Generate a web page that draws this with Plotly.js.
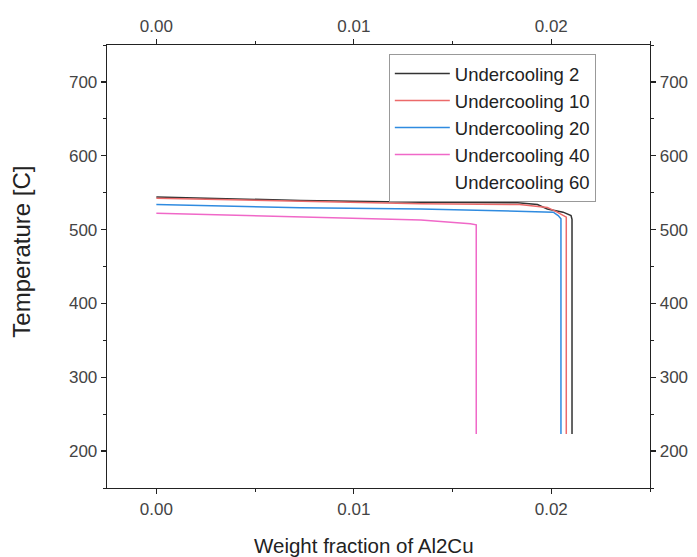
<!DOCTYPE html>
<html>
<head>
<meta charset="utf-8">
<script src="https://cdn.plot.ly/plotly-3.0.1.min.js"></script>
<style>html,body{margin:0;padding:0;background:#fff;}#chart{width:697px;height:557px;}</style>
</head>
<body>
<div id="chart"></div>
<script>
// Series names
const seriesNames = ["Undercooling 2", "Undercooling 10", "Undercooling 20", "Undercooling 40", "Undercooling 60"];
// Weight fraction of Al2Cu (x) and temperature (y) for each series
const uc2X  = [0, 0.0073, 0.0134, 0.0183, 0.0193, 0.0198, 0.0206, 0.0210, 0.02105, 0.02105];
const uc2Y  = [544, 539.5, 537, 536.3, 534, 528, 523.6, 519, 514, 223];
const uc10X = [0, 0.0073, 0.0134, 0.0184, 0.0198, 0.0203, 0.0206, 0.02076, 0.02076];
const uc10Y = [542.5, 538.5, 535, 534, 530, 523.6, 519, 516.8, 223];
const uc20X = [0, 0.0073, 0.0134, 0.0201, 0.02035, 0.02049, 0.02049];
const uc20Y = [534, 529.5, 528, 523.6, 519, 514.6, 223];
const uc40X = [0, 0.0073, 0.0134, 0.0159, 0.0162, 0.0162];
const uc40Y = [522, 517, 513, 508, 506.5, 223];
const uc60X = [null];   // not visible in the reference
const uc60Y = [null];
// Tick values and titles
const xTicks = [0, 0.01, 0.02];
const yTicks = [200, 300, 400, 500, 600, 700];
const xTitle = "Weight fraction of Al2Cu";
const yTitle = "Temperature [C]";

const colors = ["#333333", "#ec6a6a", "#2f8be0", "#f068c8", "#ffffff"];
const xs = [uc2X, uc10X, uc20X, uc40X, uc60X];
const ys = [uc2Y, uc10Y, uc20Y, uc40Y, uc60Y];

const traces = seriesNames.map((n, i) => ({
  type: "scatter", mode: "lines", name: n, x: xs[i], y: ys[i],
  line: {color: colors[i], width: 1.5}
}));
// Trace to activate mirrored axes with labels
traces.push({type: "scatter", mode: "lines", x: [], y: [], xaxis: "x2", yaxis: "y2", showlegend: false, hoverinfo: "skip"});

const font = "Liberation Sans, Arial, sans-serif";
const axisCommon = {
  showline: true, linecolor: "#222", linewidth: 1.3,
  ticks: "outside", ticklen: 5, tickwidth: 1.3, tickcolor: "#222",
  showgrid: false, zeroline: false,
  tickfont: {family: font, size: 17, color: "#444"},
  minor: {ticks: "outside", ticklen: 3, tickwidth: 1, tickcolor: "#222"}
};
const xr = [-0.0025, 0.025];
const yr = [150, 750];

const layout = {
  width: 697, height: 557,
  margin: {l: 107, r: 47, t: 45, b: 69},
  paper_bgcolor: "#fff", plot_bgcolor: "#fff",
  showlegend: true,
  xaxis: Object.assign({}, axisCommon, {
    range: xr, tickvals: xTicks, tickformat: ".2f",
    minor: Object.assign({}, axisCommon.minor, {dtick: 0.005, tick0: 0})
  }),
  yaxis: Object.assign({}, axisCommon, {
    range: yr, tickvals: yTicks,
    minor: Object.assign({}, axisCommon.minor, {dtick: 50, tick0: 0})
  }),
  xaxis2: Object.assign({}, axisCommon, {
    range: xr, tickvals: xTicks, tickformat: ".2f", overlaying: "x", side: "top", anchor: "y",
    minor: Object.assign({}, axisCommon.minor, {dtick: 0.005, tick0: 0})
  }),
  yaxis2: Object.assign({}, axisCommon, {
    range: yr, tickvals: yTicks, overlaying: "y", side: "right", anchor: "x",
    minor: Object.assign({}, axisCommon.minor, {dtick: 50, tick0: 0})
  }),
  annotations: [
    {text: xTitle, xref: "paper", yref: "paper", x: 0.473, y: -0.129, xanchor: "center", yanchor: "middle",
     showarrow: false, font: {family: font, size: 20.5, color: "#222"}},
    {text: yTitle, xref: "paper", yref: "paper", x: -0.157, y: 0.533, xanchor: "center", yanchor: "middle",
     textangle: -90, showarrow: false, font: {family: font, size: 24, color: "#222"}}
  ],
  legend: {
    x: 0.519, y: 0.98, xanchor: "left", yanchor: "top",
    bgcolor: "rgba(255,255,255,0)", bordercolor: "#999", borderwidth: 1,
    font: {family: font, size: 18.5, color: "#222"},
    itemwidth: 55, tracegroupgap: 0
  }
};

Plotly.newPlot("chart", traces, layout, {displayModeBar: false, staticPlot: true});
</script>
</body>
</html>
